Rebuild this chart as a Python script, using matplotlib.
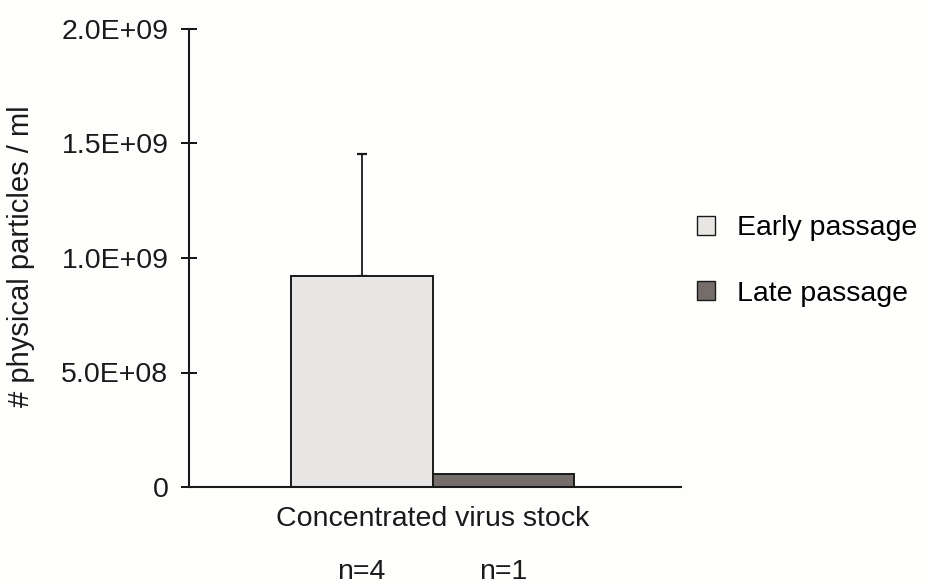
import matplotlib
matplotlib.use("Agg")
import matplotlib.pyplot as plt
from matplotlib.patches import Patch

plt.rcParams['font.family'] = ['Liberation Sans', 'DejaVu Sans']

category = "Concentrated virus stock"
series = ["Early passage", "Late passage"]
values = [0.921e9, 0.058e9]
errors_up = [0.533e9, 0.0]
n_labels = ["n=4", "n=1"]
yticks = [0, 5e8, 1e9, 1.5e9, 2e9]
ytick_labels = ["0", "5.0E+08", "1.0E+09", "1.5E+09", "2.0E+09"]
colors = ["#E8E6E4", "#756D6A"]

FS = 20.5
W, H = 929, 584
fig = plt.figure(figsize=(W/100, H/100), dpi=100)
fig.patch.set_facecolor("#FEFEFD")
ax = fig.add_axes([189/W, 1-487/H, 492/W, 458/H])
ax.set_facecolor("none")

w = 0.577
xs = [-w/2, w/2]
for x, v, e, c in zip(xs, values, errors_up, colors):
    ax.bar(x, v, width=w, color=c, edgecolor="#1a1a1a", linewidth=1.4, zorder=2)
    if e > 0:
        ax.errorbar(x, v, yerr=[[0], [e]], fmt="none", ecolor="#1a1a1a",
                    elinewidth=1.3, capsize=3.5, capthick=1.6, zorder=1)

ax.set_xlim(-0.99, 1.01)
ax.set_ylim(0, 2e9)
ax.set_yticks(yticks)
ax.set_yticklabels(ytick_labels, fontsize=FS, color="#1a1a1a")
ax.tick_params(axis="y", direction="inout", length=11.5, width=1.3, pad=9)
ax.set_xticks([])
for s in ["top", "right"]:
    ax.spines[s].set_visible(False)
for s in ["left", "bottom"]:
    ax.spines[s].set_linewidth(1.5)
    ax.spines[s].set_color("#1a1a1a")

ax.set_ylabel("# physical particles / ml", fontsize=FS + 0.5, color="#1a1a1a")
ax.yaxis.set_label_coords(35/W, 1-256/H, transform=fig.transFigure)

ax.text(433/W, 1-519/H, category, transform=fig.transFigure,
        ha="center", va="center", fontsize=FS, color="#1a1a1a")
for x, lab in zip(xs, n_labels):
    px = ax.transData.transform((x, 0))[0]
    ax.text(px/W, 1-572/H, lab, transform=fig.transFigure,
            ha="center", va="center", fontsize=FS, color="#1a1a1a")

handles = [Patch(facecolor=c, edgecolor="#1a1a1a", linewidth=1.0, label=s)
           for c, s in zip(colors, series)]
fig.legend(handles=handles, loc="center left", bbox_to_anchor=(697/W, 1-261/H),
           frameon=False, fontsize=FS, handlelength=0.62, handleheight=0.62,
           labelspacing=1.38, handletextpad=0.8, borderpad=0, borderaxespad=0)

fig.savefig("out.png", dpi=100, facecolor=fig.get_facecolor())
